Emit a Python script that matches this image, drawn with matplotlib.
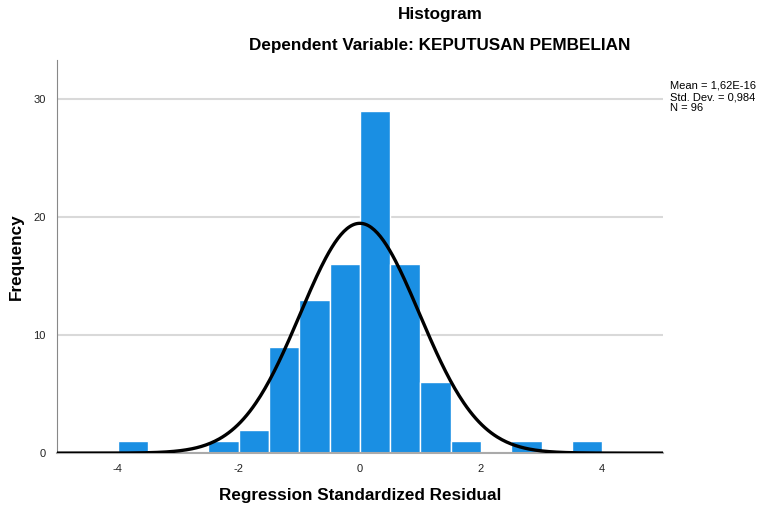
import numpy as np
import matplotlib.pyplot as plt

plt.rcParams['font.family'] = ['Liberation Sans', 'DejaVu Sans']
plt.rcParams['axes.unicode_minus'] = False

# bin edges (width 0.5) and counts
bin_left = [-4.0, -2.5, -2.0, -1.5, -1.0, -0.5, 0.0, 0.5, 1.0, 1.5, 2.5, 3.5]
counts = [1, 1, 2, 9, 13, 16, 29, 16, 6, 1, 1, 1]
bin_width = 0.5

mean = 1.62e-16
sd = 0.984
n = 96

fig = plt.figure(figsize=(7.6, 5.12), dpi=100)
ax = fig.add_axes([0.075, 0.115, 0.797, 0.768])

ax.bar(bin_left, counts, width=bin_width, align='edge', color='#1a8fe3',
       edgecolor='white', linewidth=1.0, zorder=2)

# normal curve scaled to counts
x = np.linspace(-5, 5, 400)
y = n * bin_width / (sd * np.sqrt(2 * np.pi)) * np.exp(-0.5 * ((x - mean) / sd) ** 2)
ax.plot(x, y, color='black', linewidth=2.4, zorder=3)

ax.set_xlim(-5, 5)
ax.set_ylim(0, 33.3)
ax.set_xticks([-4, -2, 0, 2, 4])
ax.set_yticks([0, 10, 20, 30])
ax.tick_params(length=0, labelsize=8, colors='#222222', pad=8)
ax.yaxis.grid(True, color='#d9d9d9', linewidth=1.5, zorder=0)
ax.set_axisbelow(True)
for s in ['top', 'right']:
    ax.spines[s].set_visible(False)
ax.spines['left'].set_color('#888888')
ax.spines['bottom'].set_color('#aaaaaa')
ax.spines['bottom'].set_linewidth(1.5)

ax.set_xlabel('Regression Standardized Residual', fontsize=12.3, fontweight='bold', labelpad=10)
ax.set_ylabel('Frequency', fontsize=12.3, fontweight='bold', labelpad=7)

fig.text(0.579, 0.971, 'Histogram', ha='center', va='center', fontsize=12.3, fontweight='bold')
fig.text(0.579, 0.911, 'Dependent Variable: KEPUTUSAN PEMBELIAN', ha='center', va='center',
         fontsize=12.3, fontweight='bold')

fig.text(0.882, 0.842, 'Mean = 1,62E-16\nStd. Dev. = 0,984\nN = 96', ha='left', va='top',
         fontsize=8, linespacing=1.15)

fig.savefig('out.png', dpi=100)
